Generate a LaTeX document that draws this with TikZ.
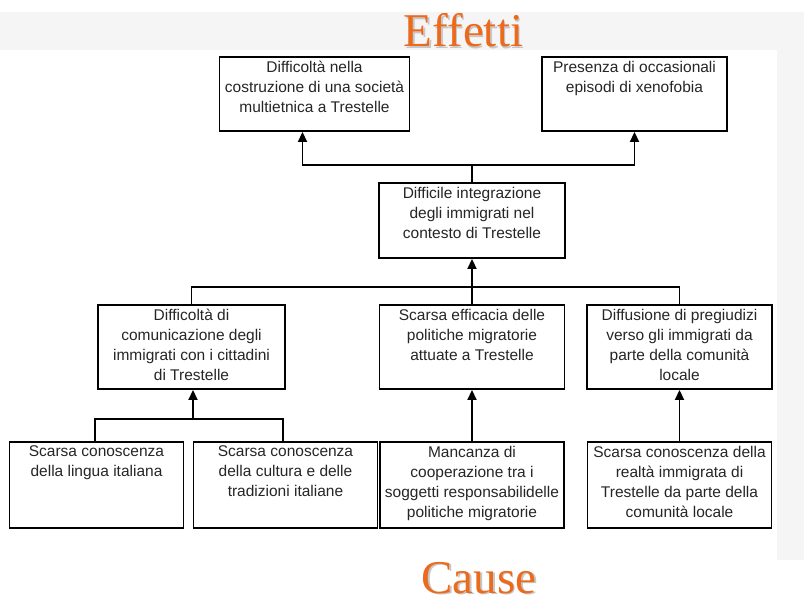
\documentclass[tikz,border=0pt]{standalone}
\usepackage{fontspec}
\setmainfont{Liberation Sans}
\newfontfamily\titlefont{Liberation Serif}
\usetikzlibrary{arrows.meta}
\definecolor{titleorange}{HTML}{EC6A1E}
\definecolor{bandgray}{HTML}{F5F5F5}
\newcommand{\tbx}[3]{\parbox[c][#2][t]{#1}{\centering\vspace{4pt}#3\par}}
\tikzset{
  cbox/.style={draw, line width=1.9pt, inner sep=0pt, rectangle, text=black!85, font=\fontsize{15.5}{20}\selectfont},
  conn/.style={line width=1.8pt},
  arr/.style={line width=1.8pt, -{Triangle[width=9pt,length=10pt]}},
  ttl/.style={font=\titlefont\fontsize{47}{47}\selectfont, text=titleorange, inner sep=0pt, text depth=0pt, anchor=base},
  ttlshadow/.style={ttl, text=black!22}
}
\begin{document}
\begin{tikzpicture}[x=1pt,y=-1pt]
\useasboundingbox (0,0) rectangle (804,605);
\fill[white] (0,0) rectangle (804,605);
\fill[bandgray] (0,12) rectangle (804,50);
\fill[bandgray] (777,50) rectangle (804,560);
% titles
\node[ttlshadow] at (465,48) {Effetti};
\node[ttl] (eff) at (463.5,46.7) {Effetti};
\node[ttlshadow] at (480.5,594.3) {Cause};
\node[ttl] (cau) at (479,593) {Cause};
% effects
\node[cbox] (e1) at (314.5,94) {\tbx{190pt}{74pt}{Difficoltà nella\\costruzione di una società\\multietnica a Trestelle}};
\node[cbox] (e2) at (634.5,94) {\tbx{185pt}{74pt}{Presenza di occasionali\\episodi di xenofobia}};
% central problem
\node[cbox] (m) at (472,220.5) {\tbx{186pt}{75pt}{Difficile integrazione\\degli immigrati nel\\contesto di Trestelle}};
% causes level 1
\node[cbox] (a) at (191.5,347) {\tbx{187pt}{84pt}{Difficoltà di\\comunicazione degli\\immigrati con i cittadini\\di Trestelle}};
\node[cbox] (b) at (472,347) {\tbx{185pt}{84pt}{Scarsa efficacia delle\\politiche migratorie\\attuate a Trestelle}};
\node[cbox] (c) at (679.5,347) {\tbx{185pt}{84pt}{Diffusione di pregiudizi\\verso gli immigrati da\\parte della comunità\\locale}};
% causes level 2
\node[cbox] (d) at (96.5,485) {\tbx{174pt}{86pt}{Scarsa conoscenza\\della lingua italiana}};
\node[cbox] (e) at (285.5,485) {\tbx{184pt}{86pt}{Scarsa conoscenza\\della cultura e delle\\tradizioni italiane}};
\node[cbox] (f) at (472,485) {\tbx{184pt}{86pt}{Mancanza di\\cooperazione tra i\\soggetti responsabilidelle\\politiche migratorie}};
\node[cbox] (g) at (679.5,485) {\tbx{184pt}{86pt}{Scarsa conoscenza della\\realtà immigrata di\\Trestelle da parte della\\comunità locale}};
% junction coordinates
\coordinate (j1) at (472,165);
\coordinate (j2) at (472,287);
\coordinate (j3) at (193,419);
% connectors: central -> effects
\draw[conn] (m.north) -- (j1);
\draw[arr] (j1) -| ([xshift=-12pt]e1.south);
\draw[arr] (j1) -| (e2.south);
% level 1 -> central
\draw[conn] (a.north) |- (j2);
\draw[conn] (c.north) |- (j2);
\draw[arr] (b.north) -- (m.south);
% level 2 -> level 1
\draw[conn] ([xshift=-1.5pt]d.north) |- (j3);
\draw[conn] ([xshift=-2.5pt]e.north) |- (j3);
\draw[arr] (j3) -- ([xshift=1.5pt]a.south);
\draw[arr] (f.north) -- (b.south);
\draw[arr] (g.north) -- (c.south);
\end{tikzpicture}
\end{document}
